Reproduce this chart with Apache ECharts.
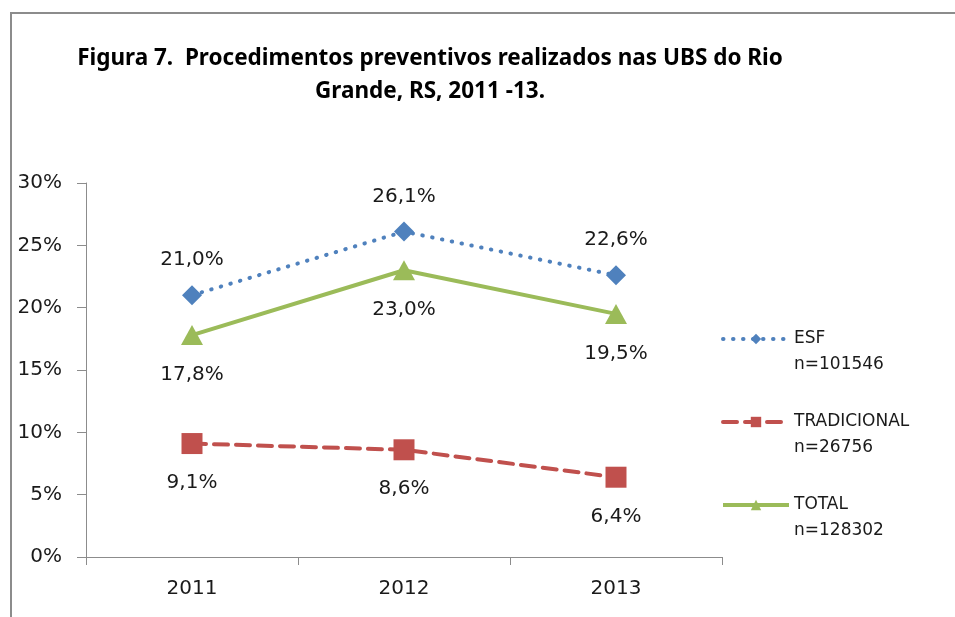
<!DOCTYPE html>
<html>
<head>
<meta charset="utf-8">
<script src="https://cdn.jsdelivr.net/npm/echarts@6/dist/echarts.min.js"></script>
<style>
  html, body { margin: 0; padding: 0; background: #fff; }
  #chart { width: 955px; height: 617px; }
</style>
</head>
<body>
<div id="chart"></div>
<script>
var anos = ['2011', '2012', '2013'];
var esf = [21.0, 26.1, 22.6];
var tradicional = [9.1, 8.6, 6.4];
var total = [17.8, 23.0, 19.5];
var legendas = ['ESF\nn=101546', 'TRADICIONAL\nn=26756', 'TOTAL\nn=128302'];

graph_procedimentos();

function fmt_pct(p) {
  return p.value.toFixed(1).replace('.', ',') + '%';
}

function graph_procedimentos() {
  var myChart = echarts.init(document.getElementById('chart'));
  var fonte = 'DejaVu Sans';
  var option = {
    animation: false,
    title: {
      text: 'Figura 7.  Procedimentos preventivos realizados nas UBS do Rio\nGrande, RS, 2011 -13.',
      left: 425,
      top: 37,
      textAlign: 'center',
      textStyle: {
        fontFamily: 'Noto Sans',
        fontWeight: 'bold',
        fontSize: 22.5,
        lineHeight: 33,
        color: '#000'
      }
    },
    graphic: [
      {
        type: 'polyline',
        shape: { points: [[11, 640], [11, 13], [970, 13]] },
        style: { stroke: '#8c8c8c', lineWidth: 2, fill: null }
      }
    ],
    legend: {
      orient: 'vertical',
      left: 716,
      top: 295,
      itemWidth: 66,
      itemHeight: 13,
      itemGap: 5,
      data: legendas,
      // linha em branco no topo: o icone fica alinhado com a primeira linha
      formatter: function(name) { return '\n' + name; },
      lineStyle: { width: 4 },
      textStyle: {
        fontFamily: fonte,
        fontSize: 17,
        lineHeight: 26,
        color: '#1a1a1a'
      }
    },
    grid: {
      left: 86,
      right: 233,
      top: 183,
      bottom: 60,
      containLabel: false
    },
    xAxis: [
      {
        type: 'category',
        boundaryGap: true,
        data: anos,
        axisLine: { lineStyle: { color: '#8c8c8c', width: 1 } },
        axisTick: { show: true, length: 8, lineStyle: { color: '#8c8c8c' } },
        axisLabel: { margin: 22, fontFamily: fonte, fontSize: 20, color: '#1a1a1a' }
      }
    ],
    yAxis: [
      {
        type: 'value',
        min: 0,
        max: 30,
        interval: 5,
        splitLine: { show: false },
        axisLine: { show: true, lineStyle: { color: '#8c8c8c', width: 1 } },
        axisTick: { show: true, length: 9, lineStyle: { color: '#8c8c8c' } },
        axisLabel: { margin: 24, fontFamily: fonte, fontSize: 20, color: '#1a1a1a', formatter: '{value}%' }
      }
    ],
    series: [
      {
        name: legendas[0],
        type: 'line',
        data: esf,
        symbol: 'diamond',
        symbolSize: 20,
        itemStyle: { color: '#4f81bd' },
        lineStyle: { color: '#4f81bd', width: 4, type: [0.5, 9.5], cap: 'round' },
        label: { show: true, position: 'top', distance: 15, formatter: fmt_pct,
                 fontFamily: fonte, fontSize: 20, color: '#1a1a1a' }
      },
      {
        name: legendas[1],
        type: 'line',
        data: tradicional,
        symbol: 'rect',
        symbolSize: 21,
        itemStyle: { color: '#c0504d' },
        lineStyle: { color: '#c0504d', width: 4, type: [14, 8], cap: 'round' },
        label: { show: true, position: 'bottom', distance: 19, formatter: fmt_pct,
                 fontFamily: fonte, fontSize: 20, color: '#1a1a1a' }
      },
      {
        name: legendas[2],
        type: 'line',
        data: total,
        symbol: 'triangle',
        symbolSize: [22, 20],
        itemStyle: { color: '#9bbb59' },
        lineStyle: { color: '#9bbb59', width: 4 },
        label: { show: true, position: 'bottom', distance: 20, formatter: fmt_pct,
                 fontFamily: fonte, fontSize: 20, color: '#1a1a1a' }
      }
    ]
  };
  myChart.setOption(option);

  window.addEventListener('resize', function() {
    if (myChart != null && myChart != undefined) {
      myChart.resize();
    }
  });
}
</script>
</body>
</html>
